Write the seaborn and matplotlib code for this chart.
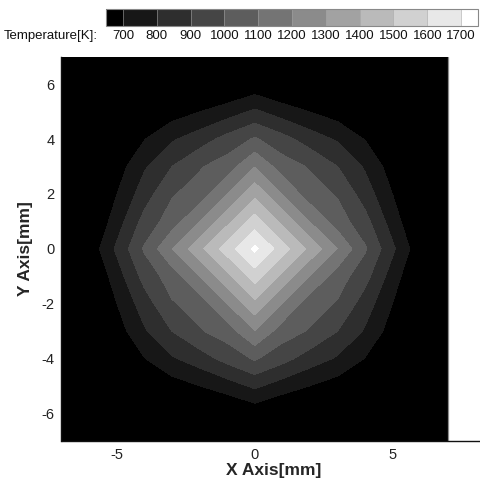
import numpy as np
import matplotlib
matplotlib.use("Agg")
import matplotlib.pyplot as plt
import seaborn as sns

# ---------------- data ----------------
levels = [700, 800, 900, 1000, 1100, 1200, 1300, 1400, 1500, 1600, 1700]
level_labels = [str(v) for v in levels]
grid_mm = [0, 1, 2, 3, 4, 5, 6, 7]          # node positions (one octant, mirrored)
# Temperature [K] at nodes (j = row, i = j..7)
T_row0 = [1722, 1547, 1372, 1197, 1012, 818, 628, 450]
T_row1 = [1372, 1197, 1050, 935, 751, 580, 420]
T_row2 = [1045, 990, 852, 698, 540, 400]
T_row3 = [900, 787, 650, 500, 380]
T_row4 = [695, 600, 470, 350]
T_row5 = [520, 430, 330]
T_row6 = [380, 300]
T_row7 = [250]
x_ticks = [-5, 0, 5]
y_ticks = [-6, -4, -2, 0, 2, 4, 6]

# ---------------- build symmetric field ----------------
octant = [T_row0, T_row1, T_row2, T_row3, T_row4, T_row5, T_row6, T_row7]
n = len(grid_mm)
half = np.zeros((n, n))
for j, row in enumerate(octant):
    for k, v in enumerate(row):
        i = j + k
        half[j, i] = v
        half[i, j] = v
g = np.array(grid_mm)
coords = np.concatenate([-g[::-1], g[1:]])
idx = np.concatenate([g[::-1], g[1:]])
Z = half[np.ix_(idx, idx)]
X, Y = np.meshgrid(coords, coords)

# ---------------- style ----------------
sns.set_theme(style="white")
plt.rcParams["font.family"] = ["Liberation Sans", "DejaVu Sans"]
plt.rcParams["axes.unicode_minus"] = False

palette = sns.blend_palette(["black", "white"], n_colors=len(levels) + 1)

W, H = 481, 480
fig = plt.figure(figsize=(W / 100, H / 100), dpi=100)
fig.patch.set_facecolor("white")

ax_left, ax_right, ax_top, ax_bot = 61.5, 485.5, 56.7, 441.0
ax = fig.add_axes([ax_left / W, 1 - ax_bot / H, (ax_right - ax_left) / W, (ax_bot - ax_top) / H])
ax.set_facecolor("white")
cs = ax.contourf(X, Y, Z, levels=levels, colors=palette, extend="both")
ax.axvline(coords[-1], color="0.55", lw=0.9)

ax.set_xlim(coords[0], 8.36)
ax.set_ylim(coords[0], coords[-1])
ax.set_xticks(x_ticks)
ax.set_yticks(y_ticks)
ax.tick_params(length=0, labelsize=10.5, pad=5, colors="#222222")
for s in ["top", "right"]:
    ax.spines[s].set_visible(False)
for s in ["left", "bottom"]:
    ax.spines[s].set_color("#111111")
    ax.spines[s].set_linewidth(1.0)
ax.set_xlabel("X Axis[mm]", fontsize=12.5, fontweight="bold", labelpad=1)
ax.set_ylabel("Y Axis[mm]", fontsize=12.5, fontweight="bold", labelpad=6)

# ---------------- colorbar legend ----------------
cax = fig.add_axes([106 / W, 1 - 26 / H, (478 - 106) / W, 17 / H])
cb = fig.colorbar(cs, cax=cax, orientation="horizontal", ticks=levels,
                  extendrect=True, extendfrac=0.05, drawedges=True)
cb.set_ticklabels(level_labels)
cb.outline.set_edgecolor("#888888")
cb.outline.set_linewidth(0.8)
cb.dividers.set_color("#a0a0a0")
cb.dividers.set_linewidth(0.4)
cax.tick_params(length=0, labelsize=9.5, pad=3, colors="#111111")
fig.text(98 / W, 1 - 36 / H, "Temperature[K]:", ha="right", va="center",
         fontsize=9.5, color="#111111")

fig.savefig("out.png", dpi=100)
